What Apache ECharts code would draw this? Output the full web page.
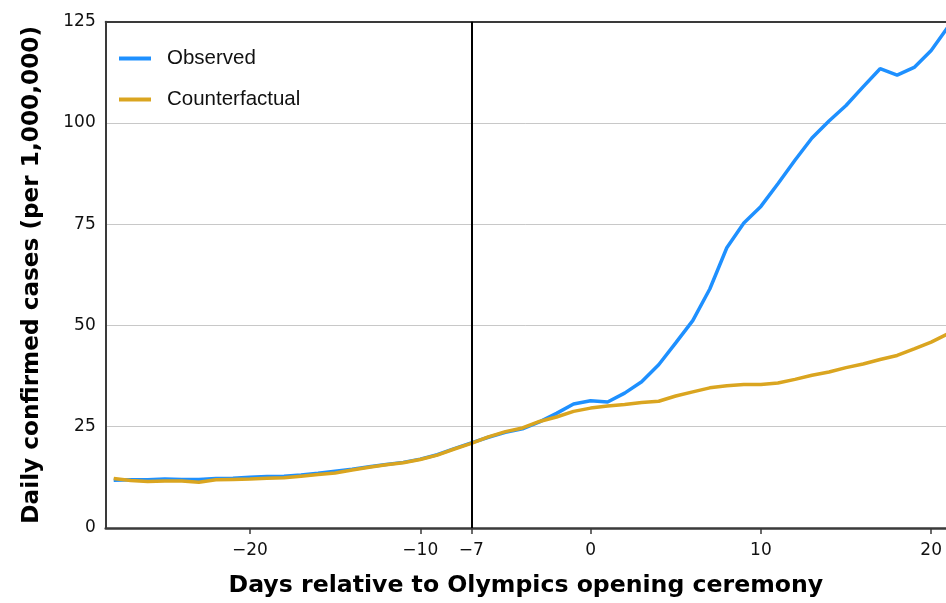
<!DOCTYPE html>
<html>
<head>
<meta charset="utf-8">
<script src="https://cdn.jsdelivr.net/npm/echarts@6/dist/echarts.min.js"></script>
<style>
html,body{margin:0;padding:0;background:#fff;}
#chart{width:946px;height:603px;}
</style>
</head>
<body>
<div id="chart"></div>
<script>
const days = [-28,-27,-26,-25,-24,-23,-22,-21,-20,-19,-18,-17,-16,-15,-14,-13,-12,-11,-10,-9,-8,-7,-6,-5,-4,-3,-2,-1,0,1,2,3,4,5,6,7,8,9,10,11,12,13,14,15,16,17,18,19,20,21];
const observed = [11.8,11.9,11.9,12.1,12.0,12.0,12.2,12.3,12.5,12.7,12.8,13.1,13.5,14.0,14.5,15.1,15.7,16.2,17.0,18.1,19.6,21.0,22.4,23.6,24.5,26.2,28.3,30.6,31.4,31.1,33.3,36.1,40.3,45.7,51.2,59.0,69.2,75.3,79.4,85.0,90.8,96.3,100.5,104.3,108.9,113.4,111.8,113.7,117.9,123.8];
const counterfactual = [12.2,11.7,11.5,11.6,11.6,11.3,11.9,12.0,12.1,12.3,12.4,12.8,13.2,13.6,14.3,15.0,15.6,16.1,16.9,18.0,19.5,20.9,22.5,23.8,24.7,26.3,27.4,28.8,29.6,30.1,30.5,31.0,31.3,32.6,33.6,34.6,35.1,35.4,35.4,35.8,36.7,37.7,38.5,39.6,40.5,41.6,42.6,44.2,45.9,48.0];
const xTicks = [-20,-10,-7,0,10,20];
const seriesNames = ['Observed','Counterfactual'];
const eventDay = -7;

const chart = echarts.init(document.getElementById('chart'), null, {renderer:'canvas'});
const fontTick = '"DejaVu Sans", sans-serif';
const fontLegend = '"Liberation Sans", Arial, sans-serif';
const fontTitle = '"DejaVu Sans", sans-serif';
const fmt = v => (v < 0 ? '\u2212' + Math.abs(v) : String(v));
const axisColor = '#3a3a3a';

chart.setOption({
  animation: false,
  backgroundColor: '#fff',
  grid: {left: 105.7, top: 21.7, right: 0, bottom: 73, show: false},
  legend: {
    orient: 'vertical', left: 114, top: 43, itemWidth: 32, itemHeight: 4, itemGap: 20,
    icon: 'rect',
    data: seriesNames,
    textStyle: {fontFamily: fontLegend, fontSize: 20.5, lineHeight: 20, color: '#111', padding: [0,0,0,11]}
  },
  xAxis: [{
    type: 'value', min: -28.47, max: 20.87,
    name: 'Days relative to Olympics opening ceremony',
    nameLocation: 'middle', nameGap: 46,
    nameTextStyle: {fontFamily: fontTitle, fontSize: 23.6, fontWeight: 'bold', color: '#000'},
    axisLine: {show: true, onZero: false, lineStyle: {color: axisColor, width: 2.5}},
    axisTick: {show: true, customValues: xTicks, length: 6, lineStyle: {color: axisColor, width: 1.5}},
    axisLabel: {customValues: xTicks, formatter: fmt, fontFamily: fontTick, fontSize: 17, color: '#111', margin: 14},
    splitLine: {show: false}
  }, {
    type: 'value', position: 'top', min: -28.47, max: 20.87,
    axisLine: {show: true, onZero: false, lineStyle: {color: axisColor, width: 2}},
    axisTick: {show: false}, axisLabel: {show: false}, splitLine: {show: false}
  }],
  yAxis: {
    type: 'value', min: 0, max: 125, interval: 25,
    name: 'Daily confirmed cases (per 1,000,000)',
    nameLocation: 'middle', nameGap: 62, nameRotate: 90,
    nameTextStyle: {fontFamily: fontTitle, fontSize: 23.2, fontWeight: 'bold', color: '#000'},
    axisLine: {show: true, onZero: false, lineStyle: {color: axisColor, width: 2}},
    axisTick: {show: false},
    axisLabel: {fontFamily: fontTick, fontSize: 17, color: '#111', margin: 10},
    splitLine: {show: true, lineStyle: {color: '#c8c8c8', width: 1}}
  },
  series: [
    {
      name: seriesNames[0], type: 'line', symbol: 'none', z: 3,
      data: days.map((d,i) => [d, observed[i]]),
      lineStyle: {color: '#1E90FF', width: 3.5}, itemStyle: {color: '#1E90FF'},
      markLine: {
        silent: true, symbol: ['none','none'], label: {show: false},
        lineStyle: {color: '#000', width: 2, type: 'solid'},
        data: [{xAxis: eventDay}]
      }
    },
    {
      name: seriesNames[1], type: 'line', symbol: 'none', z: 4,
      data: days.map((d,i) => [d, counterfactual[i]]),
      lineStyle: {color: '#DAA520', width: 3.5}, itemStyle: {color: '#DAA520'}
    }
  ]
});
</script>
</body>
</html>
